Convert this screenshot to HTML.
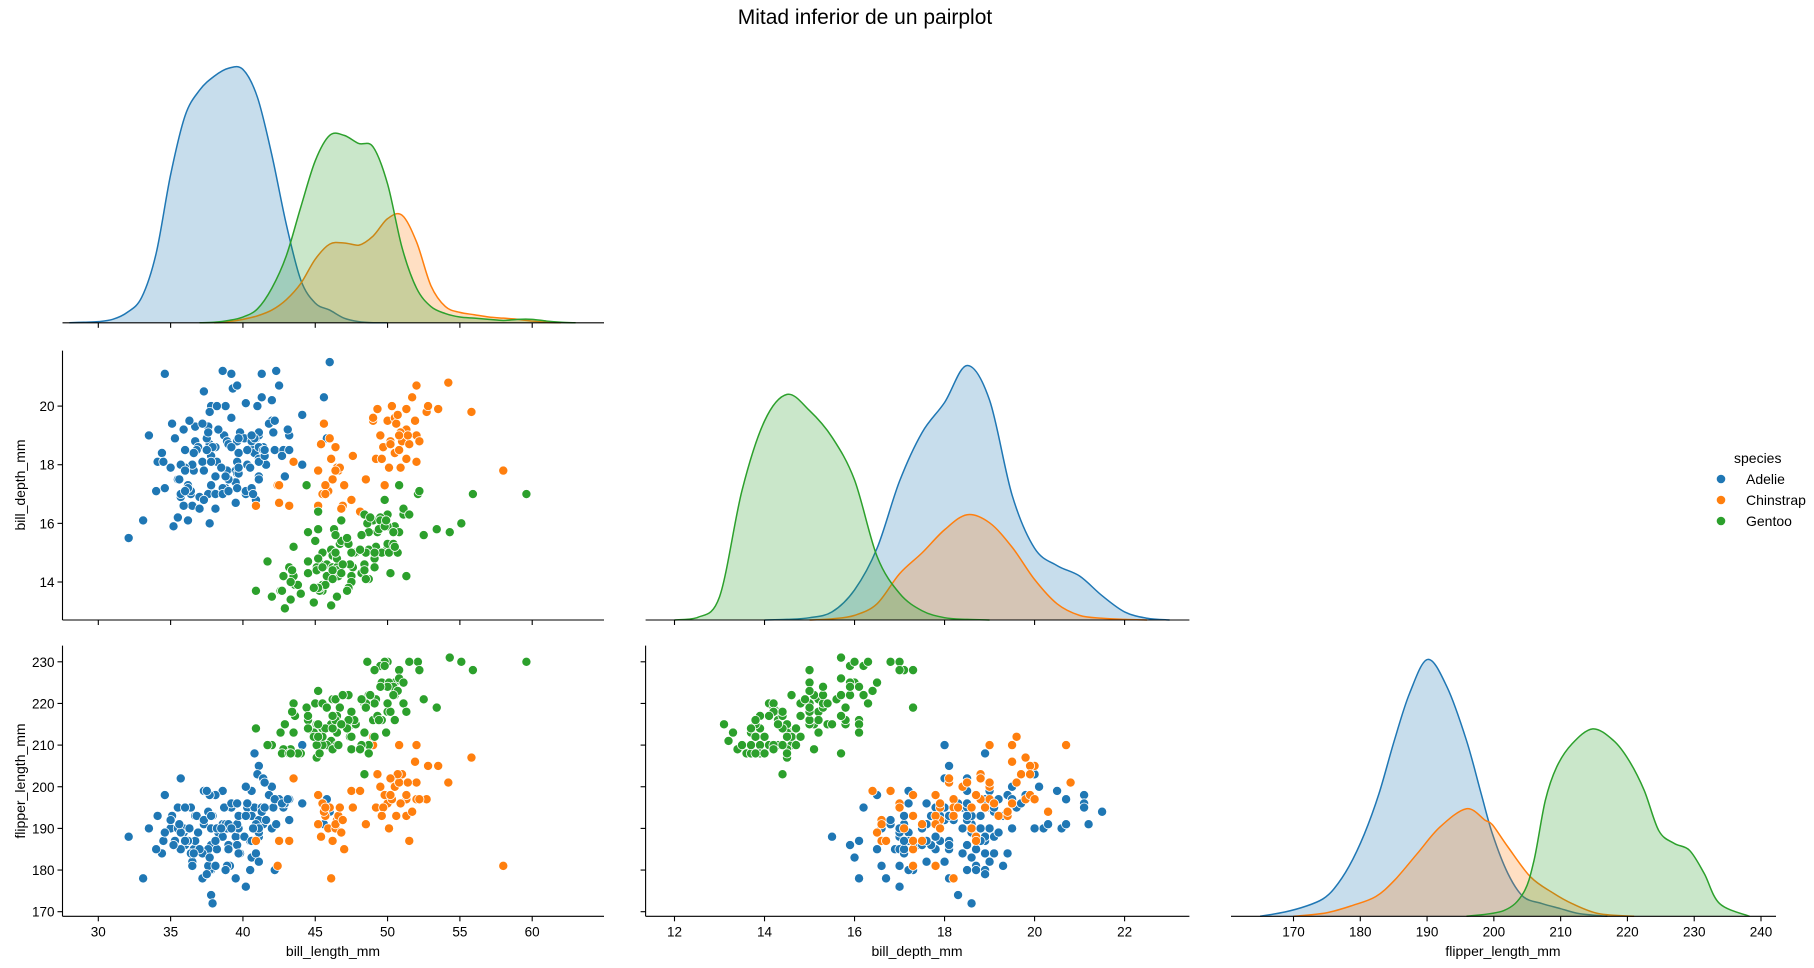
<!DOCTYPE html>
<html><head><meta charset="utf-8">
<style>
html,body{margin:0;padding:0;background:#fff;}
svg{display:block;font-family:"Liberation Sans","DejaVu Sans",sans-serif;}
</style></head>
<body>
<svg id="fig" width="1814" height="968" viewBox="0 0 1814 968" xmlns="http://www.w3.org/2000/svg">
<rect width="1814" height="968" fill="#fff"/>
<text x="865" y="24" font-size="21" text-anchor="middle" fill="#000">Mitad inferior de un pairplot</text>
<g>
<text x="1734" y="463" font-size="14" fill="#000">species</text>
<circle cx="1721" cy="479" r="4.3" fill="#1f77b4"/>
<text x="1746" y="484" font-size="14" fill="#000">Adelie</text>
<circle cx="1721" cy="500" r="4.3" fill="#ff7f0e"/>
<text x="1746" y="505" font-size="14" fill="#000">Chinstrap</text>
<circle cx="1721" cy="521" r="4.3" fill="#2ca02c"/>
<text x="1746" y="526" font-size="14" fill="#000">Gentoo</text>
</g>
<text x="0" y="0" transform="translate(25,485) rotate(-90)" font-size="14" text-anchor="middle">bill_depth_mm</text>
<text x="0" y="0" transform="translate(25,781) rotate(-90)" font-size="14" text-anchor="middle">flipper_length_mm</text>
<text x="333" y="956" font-size="14" text-anchor="middle">bill_length_mm</text>
<text x="917" y="956" font-size="14" text-anchor="middle">bill_depth_mm</text>
<text x="1503" y="956" font-size="14" text-anchor="middle">flipper_length_mm</text>
</svg>
<script>
// ---- data: [bill_length, bill_depth, flipper_length] per penguin ----
const adelie = [
39.1,18.7,181, 39.5,17.4,186, 40.3,18.0,195, 36.7,19.3,193, 39.3,20.6,190, 38.9,17.8,181, 39.2,19.6,195, 34.1,18.1,193,
42.0,20.2,190, 37.8,17.1,186, 37.8,17.3,180, 41.1,17.6,182, 38.6,21.2,191, 34.6,21.1,198, 36.6,17.8,185, 38.7,19.0,195,
42.5,20.7,197, 34.4,18.4,184, 46.0,21.5,194, 37.8,18.3,174, 37.7,18.7,180, 35.9,19.2,189, 38.2,18.1,185, 38.8,17.2,180,
35.3,18.9,187, 40.6,18.6,183, 40.5,17.9,187, 37.9,18.6,172, 40.5,18.9,180, 39.5,16.7,178, 37.2,18.1,178, 39.5,17.8,188,
40.9,18.9,184, 36.4,17.0,195, 39.2,21.1,196, 38.8,20.0,190, 42.2,18.5,180, 37.6,19.3,181, 39.8,19.1,184, 36.5,18.0,182,
40.8,18.4,195, 36.0,18.5,186, 44.1,19.7,196, 37.0,16.9,185, 39.6,18.8,190, 41.1,19.0,182, 37.5,18.9,179, 36.0,17.9,190,
42.3,21.2,191, 39.6,17.7,186, 40.1,18.9,188, 35.0,17.9,190, 42.0,19.5,200, 34.5,18.1,187, 41.4,18.6,191, 39.0,17.5,186,
40.6,18.8,193, 36.5,16.6,181, 37.6,19.1,194, 35.7,16.9,185, 41.3,21.1,195, 37.6,17.0,185, 41.1,18.2,192, 36.4,17.1,184,
41.6,18.0,192, 35.5,16.2,195, 41.1,19.1,188, 35.9,16.6,190, 41.8,19.4,198, 33.5,19.0,190, 39.7,18.4,190, 39.6,17.2,196,
45.8,18.9,197, 35.5,17.5,190, 42.8,18.5,195, 40.9,16.8,191, 37.2,19.4,184, 36.2,16.1,187, 42.1,19.1,195, 34.6,17.2,189,
42.9,17.6,196, 36.7,18.8,187, 35.1,19.4,193, 37.3,17.8,191, 41.3,20.3,194, 36.3,19.5,190, 36.9,18.6,189, 38.3,19.2,189,
38.9,18.8,190, 35.7,18.0,202, 41.1,18.1,205, 34.0,17.1,185, 39.6,18.1,186, 36.2,17.3,187, 40.8,18.9,208, 38.1,18.6,190,
40.3,18.5,196, 33.1,16.1,178, 43.2,18.5,192, 35.0,17.9,192, 41.0,20.0,203, 37.7,16.0,183, 37.8,20.0,190, 37.9,18.6,193,
39.7,18.9,184, 38.6,17.2,199, 38.2,20.0,190, 38.1,17.0,181, 43.2,19.0,197, 38.1,16.5,198, 45.6,20.3,191, 39.7,17.7,193,
42.2,19.5,197, 39.6,20.7,191, 42.7,18.3,196, 38.6,17.0,188, 37.3,20.5,199, 35.7,17.0,189, 41.1,18.6,189, 36.2,17.2,187,
37.7,19.8,198, 40.2,17.0,176, 41.4,18.5,202, 35.2,15.9,186, 40.6,19.0,199, 38.8,17.6,191, 41.5,18.3,195, 39.0,17.1,191,
44.1,18.0,210, 38.5,17.9,190, 43.1,19.2,197, 36.8,18.5,193, 37.5,18.5,199, 38.1,17.6,187, 41.1,17.5,190, 35.6,17.5,191,
40.2,20.1,200, 37.0,16.5,185, 39.7,17.9,193, 40.2,17.1,193, 40.6,17.2,187, 32.1,15.5,188, 40.7,17.0,190, 37.3,16.8,192,
39.0,18.7,185, 39.2,18.6,190, 36.6,18.4,184, 36.0,17.8,195, 37.8,18.1,193, 36.0,17.1,187, 41.5,18.5,201
];
const chinstrap = [
46.5,17.9,192, 50.0,19.5,196, 51.3,19.2,193, 45.4,18.7,188, 52.7,19.8,197, 45.2,17.8,198, 46.1,18.2,178, 51.3,18.2,197,
46.0,18.9,195, 51.3,19.9,198, 46.6,17.8,193, 51.7,20.3,194, 47.0,17.3,185, 52.0,18.1,201, 45.9,17.1,190, 50.5,19.6,201,
50.3,20.0,197, 58.0,17.8,181, 46.4,18.6,190, 49.2,18.2,195, 42.4,17.3,181, 48.5,17.5,191, 43.2,16.6,187, 50.6,19.4,193,
46.7,17.9,195, 52.0,19.0,197, 50.5,18.4,200, 49.5,19.0,200, 46.4,17.8,191, 52.8,20.0,205, 40.9,16.6,187, 54.2,20.8,201,
42.5,16.7,187, 51.0,18.8,203, 49.7,18.6,195, 47.5,16.8,199, 47.6,18.3,195, 52.0,20.7,210, 46.9,16.6,192, 53.5,19.9,205,
49.0,19.5,210, 46.2,17.5,187, 50.9,19.1,196, 45.5,17.0,196, 50.9,17.9,196, 50.8,18.5,201, 50.1,17.9,190, 49.0,19.6,212,
51.5,18.7,187, 49.8,17.3,198, 48.1,16.4,199, 51.4,19.0,201, 45.7,17.3,193, 50.7,19.7,203, 42.5,17.3,187, 52.2,18.8,197,
45.2,16.6,191, 49.3,19.9,203, 50.2,18.8,202, 45.6,19.4,194, 51.9,19.5,206, 46.8,16.5,189, 45.7,17.0,195, 55.8,19.8,207,
43.5,18.1,202, 49.6,18.2,193, 50.8,19.0,210, 50.2,18.7,198
];
const gentoo = [
46.1,13.2,211, 50.0,16.3,230, 48.7,14.1,210, 50.0,15.2,218, 47.6,14.5,215, 46.5,13.5,210, 45.4,14.6,211, 46.7,15.3,219,
43.3,13.4,209, 46.8,15.4,215, 40.9,13.7,214, 49.0,16.1,216, 45.5,13.7,214, 48.4,14.6,213, 45.8,14.6,210, 49.3,15.7,217,
42.0,13.5,210, 49.2,15.2,221, 46.2,14.5,209, 48.7,15.1,222, 50.2,14.3,218, 45.1,14.5,215, 46.5,14.5,213, 46.3,15.8,215,
42.9,13.1,215, 46.1,15.1,215, 44.5,14.3,216, 47.8,15.0,215, 48.2,14.3,210, 50.0,15.3,220, 47.3,15.3,222, 42.8,14.2,209,
45.1,14.5,207, 59.6,17.0,230, 49.1,14.8,220, 48.4,16.3,220, 42.6,13.7,213, 44.4,17.3,219, 44.0,13.6,208, 48.7,15.7,208,
42.7,13.7,208, 49.6,16.0,225, 45.3,13.7,210, 49.6,15.0,216, 50.5,15.9,222, 43.6,13.9,217, 45.5,13.9,210, 50.5,15.9,225,
44.9,13.3,213, 45.2,15.8,215, 46.6,14.2,210, 48.5,14.1,220, 45.1,14.4,210, 50.1,15.0,225, 46.5,14.4,217, 45.0,15.4,220,
43.8,13.9,208, 45.5,15.0,220, 43.2,14.5,208, 50.4,15.3,224, 45.3,13.8,208, 46.2,14.9,221, 45.7,13.9,214, 54.3,15.7,231,
45.8,14.2,219, 49.8,16.8,230, 46.2,14.4,214, 49.5,16.2,229, 43.5,14.2,220, 50.7,15.0,223, 47.7,15.0,216, 46.4,15.6,221,
48.2,15.6,221, 46.5,14.8,217, 46.4,15.0,216, 48.6,16.0,230, 47.5,14.2,209, 51.1,16.3,220, 45.2,13.8,215, 45.2,16.4,223,
49.1,14.5,212, 52.5,15.6,221, 47.4,14.6,212, 50.0,15.9,224, 44.9,13.8,212, 50.8,17.3,228, 43.4,14.4,218, 51.3,14.2,218,
47.5,14.0,212, 52.1,17.0,230, 47.5,15.0,218, 52.2,17.1,228, 45.5,14.5,212, 49.5,16.1,224, 44.5,14.7,214, 50.8,15.7,226,
49.4,15.8,216, 46.9,14.6,222, 48.4,14.4,203, 51.1,16.5,225, 48.5,15.0,219, 55.9,17.0,228, 47.2,15.5,215, 49.1,15.0,228,
47.3,13.8,216, 46.8,16.1,215, 41.7,14.7,210, 53.4,15.8,219, 43.3,14.0,208, 48.1,15.1,209, 50.5,15.2,216, 49.8,15.9,229,
43.5,15.2,213, 51.5,16.3,230, 46.2,14.1,217, 55.1,16.0,230, 44.5,15.7,217, 48.8,16.2,222, 47.2,13.7,214, 46.8,14.3,215,
50.4,15.7,222, 45.2,14.8,212, 49.9,16.1,213
];
// ---- KDE curves (grid x, density in relative units) ----
const kdeBLx_adelie = [28,29,30,31,32,33,34,35,36,37,38,39,40,41,42,43,44,45,46,47,48,49,50];
const kdeBLy_adelie = [0,0.5,1,3,9,22,60,128,179,201,213,220,219,195,145,85,37,17,11,4,1,0,0];
const kdeBLx_chinstrap = [38,39,40,41,42,43,44,45,46,47,48,49,50,51,52,53,54,55,56,57,58,59,60,61,62];
const kdeBLy_chinstrap = [0,1,3,6,11,20,34,55,68,69,67,75,90,93,70,32,14,9,7,5,4,3,1.5,0.5,0];
const kdeBLx_gentoo = [37,38,39,40,41,42,43,44,45,46,47,48,49,50,51,52,53,54,55,56,57,58,59,60,61,62,63];
const kdeBLy_gentoo = [0,0.5,2,5,12,30,58,100,140,162,162,155,152,120,65,30,14,8,5,4,3,2,3,3,1.5,0.5,0];
const kdeBDx_adelie = [14,14.5,15,15.5,16,16.5,17,17.5,18,18.5,19,19.5,20,20.5,21,21.5,22,22.5,23];
const kdeBDy_adelie = [0,0.5,2,7,26,62,120,162,188,220,190,108,62,47,38,21,7,1.5,0];
const kdeBDx_chinstrap = [15,15.5,16,16.5,17,17.5,18,18.5,19,19.5,20,20.5,21,21.5,22,22.5];
const kdeBDy_chinstrap = [0,1,4,14,40,58,78,91,84,63,35,14,4,1.5,0.5,0];
const kdeBDx_gentoo = [12,12.5,13,13.5,14,14.5,15,15.5,16,16.5,17,17.5,18,18.5,19];
const kdeBDy_gentoo = [0,2,20,112,172,195,181,158,121,55,23,8,2,0.5,0];
const kdeFLx_adelie = [165,168.7,172,174.4,176.1,178.3,180.6,182.8,185.1,187.4,190.1,193,195.9,198.1,199.8,202.1,204.4,207.2,210,212.8,217];
const kdeFLy_adelie = [0,3.7,9,15,24,43,71,106,152,193,222,198,152,106,71,37,17,11,6.6,2.3,0];
const kdeFLx_chinstrap = [170,174.9,178.9,182.3,185.1,188.5,191.9,195.9,198.7,199.8,202.1,205.5,208.9,211.7,215.7,221];
const kdeFLy_chinstrap = [0,3,9.5,17,31,54,77,93,83,79,60,34,20,11,2.3,0];
const kdeFLx_gentoo = [195.9,201.5,204.4,206,207.7,209.4,211.7,214.8,217.9,220.2,222.5,224.7,227,229.3,231.5,233.8,238.3];
const kdeFLy_gentoo = [0,5,20,48,100,129,149,162,152,135,109,74,63,57,37,11,0];
// ---- ticks ----
const ticksBL = [30,35,40,45,50,55,60];
const ticksBD_y = [14,16,18,20];
const ticksBD_x = [12,14,16,18,20,22];
const ticksFL_y = [170,180,190,200,210,220,230];
const ticksFL_x = [170,180,190,200,210,220,230,240];

const NS = 'http://www.w3.org/2000/svg';
const svg = document.getElementById('fig');
const COLORS = {adelie:'#1f77b4', chinstrap:'#ff7f0e', gentoo:'#2ca02c'};
function lin(d0,d1,r0,r1){return v => r0 + (v-d0)*(r1-r0)/(d1-d0);}
function el(tag, attrs, parent){const e=document.createElementNS(NS,tag);for(const k in attrs)e.setAttribute(k,attrs[k]);(parent||svg).appendChild(e);return e;}

const xBL = lin(30,60,98.3,532.2);
const xBD = lin(12,22,674.5,1124.6);
const xFL = lin(170,240,1293.5,1761);
const yBD = lin(14,20,582,406.1);
const yFL = lin(170,230,911.7,661.8);
const KDE_K = 1.157;

function panel(name){const g=el('g',{});return g;}

function xAxis(g, y, x0, x1, ticks, sc, labels, name){
  const a=el('g',{},g);
  
  
  el('line',{x1:x0,x2:x1,y1:y,y2:y,stroke:'#000','stroke-width':1.1},a);
  ticks.forEach(t=>{
    const x=sc(t);
    el('line',{x1:x,x2:x,y1:y,y2:y+5,stroke:'#000','stroke-width':1.1},a);
    if(labels){const tx=el('text',{x:x,y:y+20,'font-size':13.5,'text-anchor':'middle',fill:'#000'},a);tx.textContent=t;}
  });
}
function yAxis(g, x, y0, y1, ticks, sc, labels, name){
  const a=el('g',{},g);
  
  
  el('line',{x1:x,x2:x,y1:y0,y2:y1,stroke:'#000','stroke-width':1.1},a);
  ticks.forEach(t=>{
    const y=sc(t);
    el('line',{x1:x-5,x2:x,y1:y,y2:y,stroke:'#000','stroke-width':1.1},a);
    if(labels){const tx=el('text',{x:x-8,y:y+5,'font-size':13.5,'text-anchor':'end',fill:'#000'},a);tx.textContent=t;}
  });
}
// smooth path through points (Catmull-Rom -> cubic Bezier)
function smooth(pts){
  let d='M'+pts[0][0]+','+pts[0][1];
  for(let i=0;i<pts.length-1;i++){
    const p0=pts[Math.max(0,i-1)],p1=pts[i],p2=pts[i+1],p3=pts[Math.min(pts.length-1,i+2)];
    const c1x=p1[0]+(p2[0]-p0[0])/6, c1y=p1[1]+(p2[1]-p0[1])/6;
    const c2x=p2[0]-(p3[0]-p1[0])/6, c2y=p2[1]-(p3[1]-p1[1])/6;
    d+=' C'+c1x+','+Math.min(c1y,Math.max(p1[1],p2[1]))+' '+c2x+','+Math.min(c2y,Math.max(p1[1],p2[1]))+' '+p2[0]+','+p2[1];
  }
  return d;
}
function kde(g, xs, ys, sc, base, color, name){
  const pts=xs.map((v,i)=>[sc(v),base-ys[i]*KDE_K]);
  const line=smooth(pts);
  const d=line+' L'+sc(xs[xs.length-1])+','+base+' L'+sc(xs[0])+','+base+' Z';
  const f=el('path',{d:d,fill:color,'fill-opacity':0.25,stroke:'none'},g);
  
  
  const l=el('path',{d:line,fill:'none',stroke:color,'stroke-width':1.5,'stroke-linejoin':'round'},g);
  
  
}
function scatter(g, data, ix, iy, sx, sy, color, name){
  for(let i=0;i<data.length;i+=3){
    const c=el('circle',{cx:sx(data[i+ix]),cy:sy(data[i+iy]),r:4.6,fill:color,stroke:'#fff','stroke-width':0.8},g);
    
    
  }
}
const species=[['adelie',adelie],['chinstrap',chinstrap],['gentoo',gentoo]];

let g=panel('kde-bill-length');
kde(g,kdeBLx_adelie,kdeBLy_adelie,xBL,322.8,COLORS.adelie,'kde-bill-length-adelie');
kde(g,kdeBLx_chinstrap,kdeBLy_chinstrap,xBL,322.8,COLORS.chinstrap,'kde-bill-length-chinstrap');
kde(g,kdeBLx_gentoo,kdeBLy_gentoo,xBL,322.8,COLORS.gentoo,'kde-bill-length-gentoo');
xAxis(g,322.8,62.5,604,ticksBL,xBL,false,'x-axis-r1c1');

g=panel('scatter-bill-length-vs-depth');
species.forEach(([n,d])=>scatter(g,d,0,1,xBL,yBD,COLORS[n],'scatter-r2c1-'+n));
yAxis(g,62.5,350.6,620,ticksBD_y,yBD,true,'y-axis-bill-depth');
xAxis(g,620,62.5,604,ticksBL,xBL,false,'x-axis-r2c1');

g=panel('kde-bill-depth');
kde(g,kdeBDx_adelie,kdeBDy_adelie,xBD,620,COLORS.adelie,'kde-bill-depth-adelie');
kde(g,kdeBDx_chinstrap,kdeBDy_chinstrap,xBD,620,COLORS.chinstrap,'kde-bill-depth-chinstrap');
kde(g,kdeBDx_gentoo,kdeBDy_gentoo,xBD,620,COLORS.gentoo,'kde-bill-depth-gentoo');
xAxis(g,620,645.6,1189.4,ticksBD_x,xBD,false,'x-axis-r2c2');

g=panel('scatter-bill-length-vs-flipper');
species.forEach(([n,d])=>scatter(g,d,0,2,xBL,yFL,COLORS[n],'scatter-r3c1-'+n));
yAxis(g,62.5,645.6,916.3,ticksFL_y,yFL,true,'y-axis-flipper-length');
xAxis(g,916.3,62.5,604,ticksBL,xBL,true,'x-axis-bill-length');

g=panel('scatter-bill-depth-vs-flipper');
species.forEach(([n,d])=>scatter(g,d,1,2,xBD,yFL,COLORS[n],'scatter-r3c2-'+n));
yAxis(g,645.6,645.6,916.3,ticksFL_y,yFL,false,'y-axis-r3c2');
xAxis(g,916.3,645.6,1189.4,ticksBD_x,xBD,true,'x-axis-bill-depth');

g=panel('kde-flipper-length');
kde(g,kdeFLx_adelie,kdeFLy_adelie,xFL,916.3,COLORS.adelie,'kde-flipper-adelie');
kde(g,kdeFLx_chinstrap,kdeFLy_chinstrap,xFL,916.3,COLORS.chinstrap,'kde-flipper-chinstrap');
kde(g,kdeFLx_gentoo,kdeFLy_gentoo,xFL,916.3,COLORS.gentoo,'kde-flipper-gentoo');
xAxis(g,916.3,1231,1776,ticksFL_x,xFL,true,'x-axis-flipper-length');
</script>
</body></html>
